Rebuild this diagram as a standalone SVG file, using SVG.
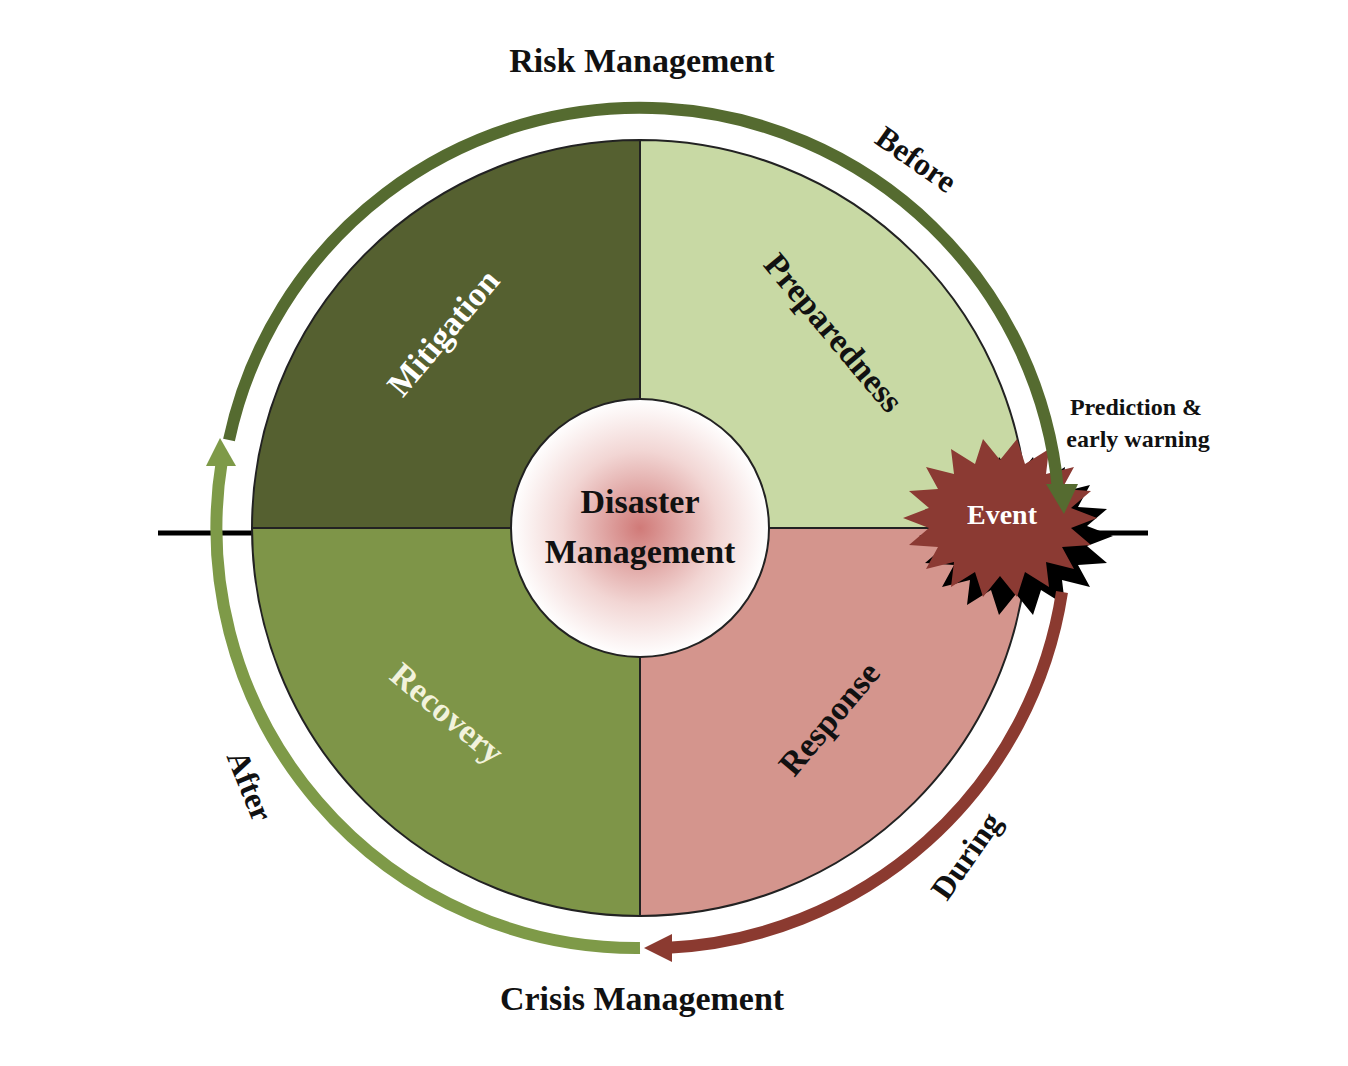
<svg xmlns="http://www.w3.org/2000/svg" width="1348" height="1066" viewBox="0 0 1348 1066">
<style>
text{font-family:"Liberation Serif","DejaVu Serif",serif;font-weight:bold;text-anchor:middle}
.big{font-size:34px}
.q{font-size:34px}
.arc{fill:none;stroke-width:12}
.quad{stroke:#222;stroke-width:2}
</style>
<defs>
<radialGradient id="g" cx="0.5" cy="0.5" r="0.5">
<stop offset="0" stop-color="#d07a78"/>
<stop offset="0.6" stop-color="#f2d6d4"/>
<stop offset="1" stop-color="#ffffff"/>
</radialGradient>
<polygon id="star" points="1097,518 1071,528 1091,545 1062,547 1074,569 1046,562 1049,587 1025,572 1017,597 1000,576 983,597 975,572 951,587 954,562 926,569 938,547 909,545 929,528 903,518 929,508 909,491 938,489 926,467 954,474 951,449 975,464 983,439 1000,460 1017,439 1025,464 1049,449 1046,474 1074,467 1062,489 1091,491 1071,508"/>
</defs>
<rect width="1348" height="1066" fill="#fff"/>
<line x1="158" y1="533" x2="1148" y2="533" stroke="#000" stroke-width="5"/>
<g id="mitigation"><path class="quad" d="M640 528 L252 528 A388 388 0 0 1 640 140 Z" fill="#556030"/>
<text class="q" fill="#fff" transform="translate(452,340) rotate(-50)">Mitigation</text></g>
<g id="preparedness"><path class="quad" d="M640 528 L640 140 A388 388 0 0 1 1028 528 Z" fill="#c8d9a4"/>
<text class="q" fill="#111" transform="translate(825,340) rotate(50)">Preparedness</text></g>
<g id="recovery"><path class="quad" d="M640 528 L640 916 A388 388 0 0 1 252 528 Z" fill="#7e9548"/>
<text class="q" fill="#f2f2dc" transform="translate(440,722) rotate(40)">Recovery</text></g>
<g id="response"><path class="quad" d="M640 528 L1028 528 A388 388 0 0 1 640 916 Z" fill="#d4958d"/>
<text class="q" fill="#111" transform="translate(838,726) rotate(-50)">Response</text></g>
<g id="center"><circle cx="640" cy="528" r="129" fill="url(#g)" stroke="#222" stroke-width="2"/>
<text class="big" x="640" y="513" font-size="36" fill="#111">Disaster</text>
<text class="big" x="640" y="563" font-size="36" fill="#111">Management</text></g>
<g id="event">
<use href="#star" fill="#000" transform="translate(16,18)"/>
<use href="#star" fill="#8b3a33"/>
<text x="1002" y="524" font-size="28" fill="#fff">Event</text>
</g>
<g id="connectors">
<path class="arc" stroke="#556b30" d="M229 440 A420 420 0 0 1 1058 490"/>
<polygon fill="#556b30" points="1046,484 1078,484 1064,514"/>
<path class="arc" stroke="#7e9a48" d="M640 948 A420 420 0 0 1 222 460"/>
<polygon fill="#7e9a48" points="206,466 236,466 220,438"/>
<path class="arc" stroke="#8b3a30" d="M1062 592 A420 420 0 0 1 665 948"/>
<polygon fill="#8b3a30" points="672,934 672,962 644,948"/>
</g>
<g id="labels" fill="#111">
<text class="big" x="642" y="72">Risk Management</text>
<text class="big" x="642" y="1010">Crisis Management</text>
<text font-size="32" transform="translate(910,168) rotate(35)">Before</text>
<text font-size="32" transform="translate(240,790) rotate(68)">After</text>
<text font-size="32" transform="translate(975,862) rotate(-55)">During</text>
<text font-size="24" x="1136" y="415">Prediction &amp;</text>
<text font-size="24" x="1138" y="447">early warning</text>
</g>
</svg>
